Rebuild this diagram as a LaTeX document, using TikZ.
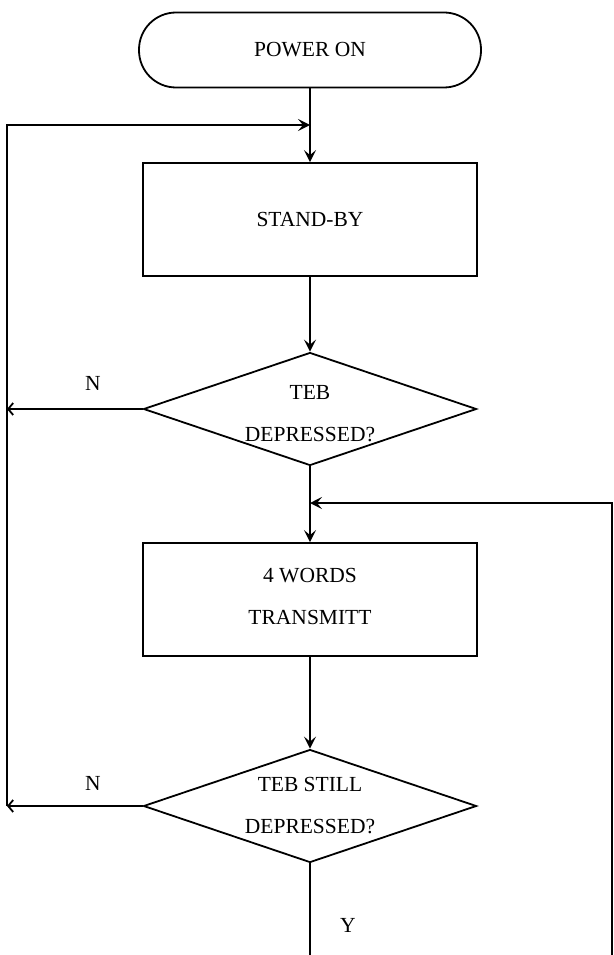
\documentclass[tikz,border=0pt]{standalone}
\usepackage{fontspec}
\setmainfont{Liberation Serif}
\usetikzlibrary{shapes.geometric,arrows.meta}
\begin{document}
\begin{tikzpicture}[x=1pt,y=-1pt,
  line width=1.8pt,
  every node/.style={font=\fontsize{21.5}{42}\selectfont, align=center, inner sep=0pt},
  terminal/.style={draw, rectangle, rounded corners=37pt, minimum width=342pt, minimum height=75pt},
  procbox/.style={draw, rectangle, minimum width=334pt, minimum height=113pt},
  decision/.style={draw, diamond, minimum width=333pt, minimum height=113pt},
  flow/.style={-{Stealth[length=12pt,width=12pt,inset=5pt]}},
  barb/.style={-{Straight Barb[length=5pt,width=12pt]}},
  lbl/.style={font=\fontsize{21.5}{24}\selectfont}
]
\useasboundingbox (0,0) rectangle (613,955);
\node[terminal] (pwr) at (310,50) {POWER ON};
\node[procbox] (sb) at (310,219.5) {STAND-BY};
\node[decision] (d1) at (310,409) {};
\node (d1t) at (310,414) {TEB\\DEPRESSED?};
\node[procbox] (tx) at (310,599.5) {};
\node (txt) at (310,596) {4 WORDS\\TRANSMITT};
\node[decision] (d2) at (310,806) {};
\node (d2t) at (310,806) {TEB STILL\\DEPRESSED?};

\coordinate (m1) at (310,125);
\coordinate (m2) at (310,503);
\coordinate (l1) at (7,409);
\coordinate (l2) at (7,806);
\coordinate (lt) at (7,125);
\coordinate (rb) at (612,955);
\coordinate (rt) at (612,503);
\coordinate (bot) at (310,955);

\draw[flow] (pwr.south) -- (sb.north);
\draw[flow] (d1.south) -- (tx.north);
\draw[flow] (sb.south) -- (d1.north);
\draw[flow] (tx.south) -- (d2.north);

\draw[barb] (d1.west) -- (l1);
\draw[barb] (d2.west) -- (l2);
\draw[flow] (l2) -- (lt) -- (m1);
\draw[flow] (rb) -- (rt) -- (m2);
\draw (d2.south) -- (bot);

\node[lbl] (n1) at (93,383) {N};
\node[lbl] (n2) at (93,783) {N};
\node[lbl] (y1) at (348,925) {Y};
\end{tikzpicture}
\end{document}
